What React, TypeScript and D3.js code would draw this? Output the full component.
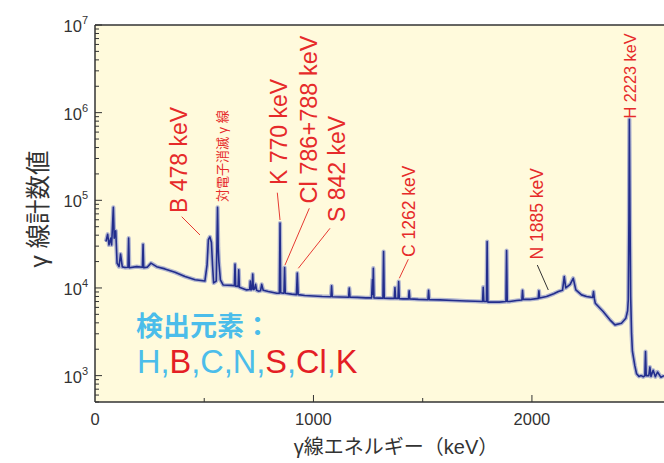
import React from 'react';
import * as d3 from 'd3';

// spectrum: [energy on the printed axis (keV), counts]
const spectrum: [number, number][] = [
  [50, 33800], [58, 41000], [64, 31000], [72, 37000], [76, 31000], [84, 83000], [88, 37000], [95, 45000],
  [101, 19200], [110, 17500], [117, 24300], [125, 17400], [137, 17100], [151, 17200], [154, 37000], [157, 17000],
  [191, 17500], [217, 17200], [220, 31500], [223, 17000], [240, 17300], [256, 19200], [282, 17500], [320, 16500],
  [366, 15100], [412, 13500], [458, 12400], [503, 12000],
  [513, 18300], [519, 35500], [526, 38300], [533, 33000], [538, 18200], [543, 11400],
  [555, 12000], [558, 30000], [561, 83000], [564, 28800], [567, 20000], [574, 12400], [587, 10800], [625, 10700],
  [638, 10600], [641, 18700], [644, 10500], [655, 10400], [658, 16100], [661, 10200], [694, 9500],
  [708, 9600], [711, 12000], [714, 9500], [719, 9800], [722, 14400], [725, 9600], [730, 9700], [735, 11000],
  [740, 9400], [748, 9200], [758, 9300], [763, 11000], [770, 9400], [793, 9100], [832, 8700],
  [844, 8700], [847, 55000], [850, 8800], [862, 8700], [865, 8800], [868, 17100], [871, 8700], [900, 8500],
  [922, 8400], [926, 14800], [930, 8400], [960, 8200], [1000, 8100], [1040, 8000],
  [1080, 7950], [1083, 10600], [1086, 7950], [1120, 7900], [1161, 7850], [1164, 9950], [1167, 7850],
  [1200, 7800], [1240, 7700], [1266, 7700], [1270, 12500], [1272, 8500], [1274, 16800], [1277, 7700],
  [1300, 7650], [1318, 7650], [1321, 26000], [1324, 7650], [1350, 7600],
  [1370, 7600], [1373, 10100], [1376, 7600], [1387, 7600], [1390, 11800], [1393, 7550], [1410, 7500],
  [1435, 7500], [1438, 9270], [1441, 7500], [1480, 7400], [1524, 7350], [1527, 9400], [1530, 7350],
  [1579, 7310], [1640, 7200], [1700, 7100], [1740, 7050],
  [1774, 7000], [1777, 10200], [1780, 7000], [1792, 7000], [1795, 33800], [1798, 6900], [1811, 6900], [1850, 6900],
  [1881, 7000], [1884, 26700], [1887, 7000], [1899, 7000], [1930, 7200], [1954, 7300], [1957, 9400], [1960, 7400],
  [1991, 7400], [2029, 7600], [2032, 9300], [2035, 7700], [2067, 8000], [2100, 8600], [2121, 9100],
  [2140, 9400], [2148, 13500], [2155, 10000], [2175, 11000], [2189, 12900], [2201, 9500], [2227, 8340], [2250, 8000],
  [2278, 7800], [2282, 9100], [2286, 7500], [2290, 6700], [2326, 5380], [2357, 4330], [2380, 3790], [2410, 3960],
  [2430, 4520], [2438, 5500], [2441, 7300], [2444, 60000], [2446, 840000], [2449, 60000], [2452, 8000],
  [2456, 3050], [2460, 1900], [2471, 1300], [2479, 1050],
  [2490, 980], [2500, 1000], [2510, 970], [2517, 1000], [2520, 1880], [2523, 1000], [2535, 1000], [2540, 1250],
  [2545, 980], [2555, 1150], [2565, 970], [2575, 1100], [2590, 960], [2605, 1000],
];

const xTicks = [500, 1000, 1500, 2000];
const xTickLabels = [0, 1000, 2000];
const yExponents = [3, 4, 5, 6, 7];

const peakLabels = ['B 478 keV', '対電子消滅 γ 線', 'K 770 keV', 'Cl 786+788 keV', 'S 842 keV', 'C 1262 keV', 'N 1885 keV', 'H 2223 keV'];
const elementsTitle = '検出元素：';
const elements = ['H', 'B', 'C', 'N', 'S', 'Cl', 'K'];
const detectedRed = ['B', 'S', 'Cl', 'K'];

// layout for the labels (baseline x, start y, font size) and their leader lines
const labelLayout = [
  { x: 187, y: 213, fs: 23 },
  { x: 226.5, y: 202, fs: 13 },
  { x: 286.7, y: 185, fs: 23 },
  { x: 316.7, y: 203.5, fs: 23.5 },
  { x: 345, y: 222, fs: 23 },
  { x: 415, y: 257, fs: 17.5 },
  { x: 543.3, y: 259.5, fs: 17.5 },
  { x: 636, y: 118.5, fs: 16.3 },
];
const leaders = [
  { x1: 181.7, y1: 216.7, x2: 200, y2: 235, c: '#e63a32' },
  { x1: 277.3, y1: 192.7, x2: 280, y2: 220, c: '#e63a32' },
  { x1: 309.3, y1: 208.3, x2: 285, y2: 265, c: '#e63a32' },
  { x1: 330, y1: 228.3, x2: 298.3, y2: 268.3, c: '#e63a32' },
  { x1: 408.3, y1: 259.3, x2: 399.3, y2: 278.3, c: '#e63a32' },
  { x1: 537.3, y1: 265, x2: 548.3, y2: 290, c: '#333' },
];

const W = 664;
const H = 463;
const left = 95, top = 25, bottom = 402;
const FONT = "'Liberation Sans', Arial, 'Noto Sans CJK JP', sans-serif";
const RED = '#e62a2a';
const BLUE = '#4bbdea';

export default function App() {
  const x = d3.scaleLinear().domain([0, 2600]).range([left, 663]);
  const y = d3.scaleLog().domain([500, 1e7]).range([bottom, top]);

  const line = d3.line<[number, number]>()
    .x(d => x(d[0]))
    .y(d => y(d[1]));
  const path = line(spectrum) || '';

  const minor: number[] = [];
  for (let e = 2; e <= 6; e++) {
    for (let k = 2; k <= 9; k++) {
      const v = k * Math.pow(10, e);
      if (v >= 500 && v < 1e7) minor.push(v);
    }
  }

  return (
    <svg width={W} height={H} style={{ position: 'absolute', left: 0, top: 0, background: '#fff' }} fontFamily={FONT}>
      <defs>
        <clipPath id="plot">
          <rect x={left} y={top} width={W - left} height={bottom - top} />
        </clipPath>
      </defs>
      <rect x={left} y={top} width={W - left} height={bottom - top} fill="#fffadc" />

      {/* soft halo stands in for the counting noise of the trace */}
      <g clipPath="url(#plot)">
        <path d={path} fill="none" stroke="#7f88c6" strokeOpacity={0.6} strokeWidth={4.2} strokeLinejoin="round" />
        <path d={path} fill="none" stroke="#222d8c" strokeWidth={1.6} strokeLinejoin="round" />
      </g>

      {/* frame */}
      <line x1={left} x2={W} y1={top} y2={top} stroke="#333" strokeWidth={1.5} />
      <line x1={left} x2={W} y1={bottom} y2={bottom} stroke="#333" strokeWidth={1.5} />
      <line x1={left} x2={left} y1={top} y2={bottom} stroke="#333" strokeWidth={1.5} />

      {/* y ticks */}
      {yExponents.map(e => (
        <g key={'y' + e}>
          <line x1={left} x2={left + 7} y1={y(Math.pow(10, e))} y2={y(Math.pow(10, e))} stroke="#333" strokeWidth={1} />
          <text x={88} y={y(Math.pow(10, e)) + 7} textAnchor="end" fontSize={16.5} fill="#333">
            10<tspan dy={-8} fontSize={11}>{e}</tspan>
          </text>
        </g>
      ))}
      {minor.map(v => (
        <line key={'m' + v} x1={left} x2={left + 4} y1={y(v)} y2={y(v)} stroke="#333" strokeWidth={1} />
      ))}

      {/* x ticks */}
      {xTicks.map(v => (
        <line key={'x' + v} x1={x(v)} x2={x(v)} y1={bottom} y2={bottom - (v % 1000 === 0 ? 7 : 4)} stroke="#333" strokeWidth={1} />
      ))}
      {xTickLabels.map(v => (
        <text key={'xl' + v} x={x(v)} y={425} textAnchor="middle" fontSize={16.5} fill="#333">{v}</text>
      ))}

      {/* axis titles */}
      <text x={396} y={454} textAnchor="middle" fontSize={20} fill="#333">γ線エネルギー（keV）</text>
      <text transform="translate(47,209) rotate(-90)" textAnchor="middle" fontSize={24.5} fill="#333">γ 線計数値</text>

      {/* peak annotations */}
      {leaders.map((l, i) => (
        <line key={'ld' + i} x1={l.x1} y1={l.y1} x2={l.x2} y2={l.y2} stroke={l.c} strokeWidth={1} />
      ))}
      {peakLabels.map((t, i) => (
        <text key={'pl' + i} transform={`translate(${labelLayout[i].x},${labelLayout[i].y}) rotate(-90)`}
          fontSize={labelLayout[i].fs} fill={RED}>{t}</text>
      ))}

      {/* detected elements */}
      <text x={136} y={336} fontSize={27} fontWeight="bold" fill={BLUE}>{elementsTitle}</text>
      <text x={137} y={373} fontSize={32.5} fill={BLUE}>
        {elements.map((el, i) => (
          <React.Fragment key={el}>
            <tspan fill={detectedRed.includes(el) ? '#e41e25' : BLUE}>{el}</tspan>
            {i < elements.length - 1 ? <tspan fill={BLUE}>,</tspan> : null}
          </React.Fragment>
        ))}
      </text>
    </svg>
  );
}
